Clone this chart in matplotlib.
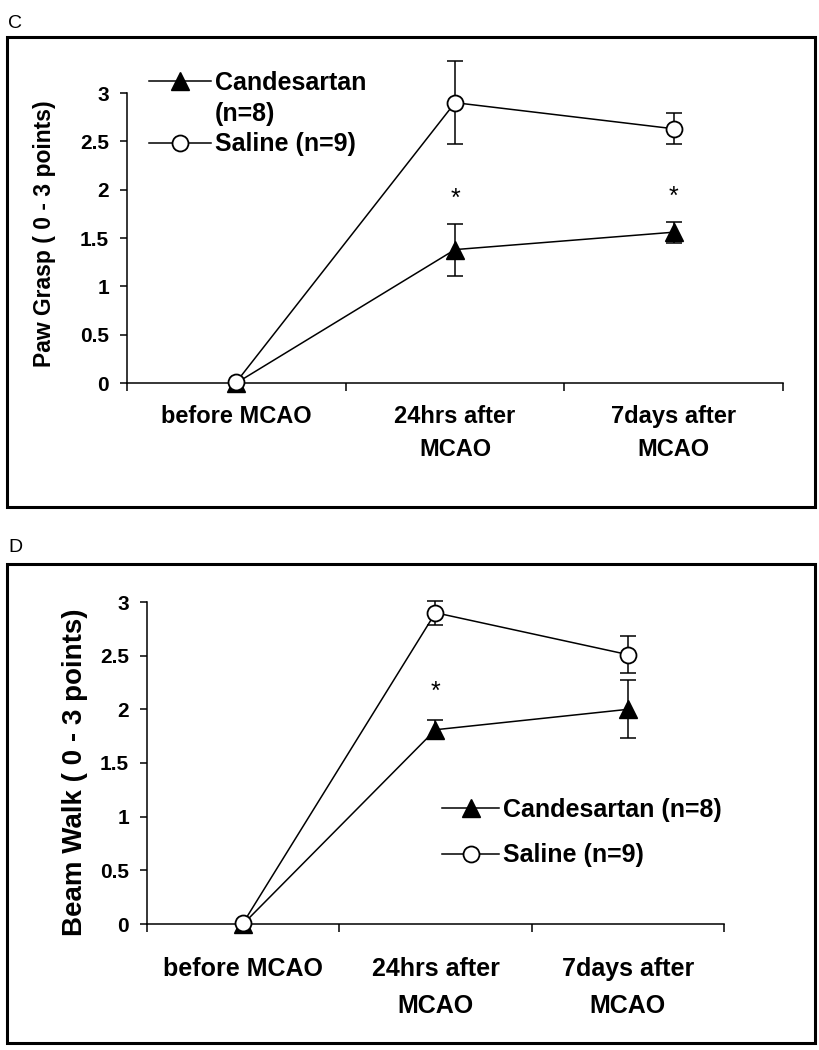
import matplotlib
matplotlib.use("Agg")
import matplotlib.pyplot as plt
from matplotlib.patches import Rectangle
from matplotlib.lines import Line2D

# data
categories = ["before MCAO", "24hrs after\nMCAO", "7days after\nMCAO"]

paw_cand = [0.0, 1.38, 1.56]
paw_cand_err = [0.0, 0.27, 0.11]
paw_sal = [0.01, 2.90, 2.63]
paw_sal_err = [0.0, 0.43, 0.16]
paw_stars = [1.90, 1.93]

beam_cand = [0.0, 1.81, 2.00]
beam_cand_err = [0.0, 0.09, 0.27]
beam_sal = [0.01, 2.90, 2.51]
beam_sal_err = [0.0, 0.11, 0.17]
beam_stars = [2.16]

yticks = [0, 0.5, 1, 1.5, 2, 2.5, 3]
ytick_labels = ["0", "0.5", "1", "1.5", "2", "2.5", "3"]

W, H = 820, 1050
FONT = ["Liberation Sans", "DejaVu Sans"]

fig = plt.figure(figsize=(W / 100, H / 100), dpi=100)


def fig_axes(x0, y0, x1, y1):
    # pixel box (top-left origin) -> axes
    return fig.add_axes([x0 / W, 1 - y1 / H, (x1 - x0) / W, (y1 - y0) / H])


def frame(x0, y0, x1, y1):
    fig.patches.append(Rectangle((x0 / W, 1 - y1 / H), (x1 - x0) / W, (y1 - y0) / H,
                                 transform=fig.transFigure, fill=False,
                                 edgecolor="black", linewidth=2.2))


def panel(ax, cand, cand_err, sal, sal_err, star_y, ylab, ylab_size, xt_size, xt_space, xt_pad):
    x = [0, 1, 2]
    ax.errorbar(x, cand, yerr=cand_err, fmt="none", ecolor="black", elinewidth=1.1,
                capsize=6, capthick=1.1, clip_on=False, zorder=2)
    ax.errorbar(x, sal, yerr=sal_err, fmt="none", ecolor="black", elinewidth=1.1,
                capsize=6, capthick=1.1, clip_on=False, zorder=2)
    ax.plot(x, cand, color="black", lw=1.1, marker="^", markersize=13,
            markerfacecolor="black", clip_on=False, zorder=3)
    ax.plot(x, sal, color="black", lw=1.1, marker="o", markersize=11.5,
            markerfacecolor="white", markeredgewidth=1.3, clip_on=False, zorder=4)
    for i, s in enumerate(star_y):
        ax.text(i + 1, s, "*", ha="center", va="center", fontsize=18, family=FONT)
    ax.set_xlim(-0.5, 2.5)
    ax.set_ylim(0, 3)
    ax.set_xticks([-0.5, 0.5, 1.5, 2.5])
    ax.set_xticklabels([])
    ax.set_xticks([0, 1, 2], minor=True)
    ax.set_xticklabels(categories, minor=True, fontsize=xt_size, fontweight="bold",
                       family=FONT, linespacing=xt_space)
    ax.tick_params(axis="x", which="minor", length=0, pad=xt_pad)
    ax.tick_params(axis="x", which="major", length=6, width=1.1)
    ax.set_yticks(yticks)
    ax.set_yticklabels(ytick_labels, fontsize=15, fontweight="bold", family=FONT)
    ax.tick_params(axis="y", length=5, width=1.1, pad=8)
    for sp in ["top", "right"]:
        ax.spines[sp].set_visible(False)
    for sp in ["left", "bottom"]:
        ax.spines[sp].set_linewidth(1.1)
    ax.set_ylabel(ylab, fontsize=ylab_size, fontweight="bold", family=FONT)


def handles():
    h1 = Line2D([], [], color="black", lw=1.1, marker="^", markersize=13, markerfacecolor="black")
    h2 = Line2D([], [], color="black", lw=1.1, marker="o", markersize=11.5,
                markerfacecolor="white", markeredgewidth=1.3)
    blank = Line2D([], [], color="none")
    return h1, h2, blank


# panel C
frame(7, 37, 815, 507)
fig.text(8 / W, 1 - 23 / H, "C", fontsize=14, family=FONT, va="center", ha="left")
axc = fig_axes(127, 93, 783, 383)
panel(axc, paw_cand, paw_cand_err, paw_sal, paw_sal_err, paw_stars,
      "Paw Grasp ( 0 - 3 points)", 16.5, 17, 1.55, 16)
axc.yaxis.set_label_coords(-0.108, 0.514)
h1, h2, blank = handles()
fig.legend([h1, blank, h2], ["Candesartan", "(n=8)", "Saline (n=9)"], loc="upper left",
           bbox_to_anchor=(149 / W, 1 - 71 / H), frameon=False, handlelength=2.5,
           handletextpad=0.15, labelspacing=0.27, borderpad=0, borderaxespad=0,
           prop={"family": FONT, "weight": "bold", "size": 18})

# panel D
frame(7, 564, 815, 1043)
fig.text(8 / W, 1 - 548 / H, "D", fontsize=14, family=FONT, va="center", ha="left")
axd = fig_axes(147, 602, 724, 924)
panel(axd, beam_cand, beam_cand_err, beam_sal, beam_sal_err, beam_stars,
      "Beam Walk ( 0 - 3 points)", 20, 18, 1.65, 24)
axd.yaxis.set_label_coords(-0.102, 0.47)
h1, h2, blank = handles()
fig.legend([h1, h2], ["Candesartan (n=8)", "Saline (n=9)"], loc="upper left",
           bbox_to_anchor=(442 / W, 1 - 798 / H), frameon=False, handlelength=2.3,
           handletextpad=0.15, labelspacing=0.85, borderpad=0, borderaxespad=0,
           prop={"family": FONT, "weight": "bold", "size": 18})

fig.savefig("out.png", dpi=100)
